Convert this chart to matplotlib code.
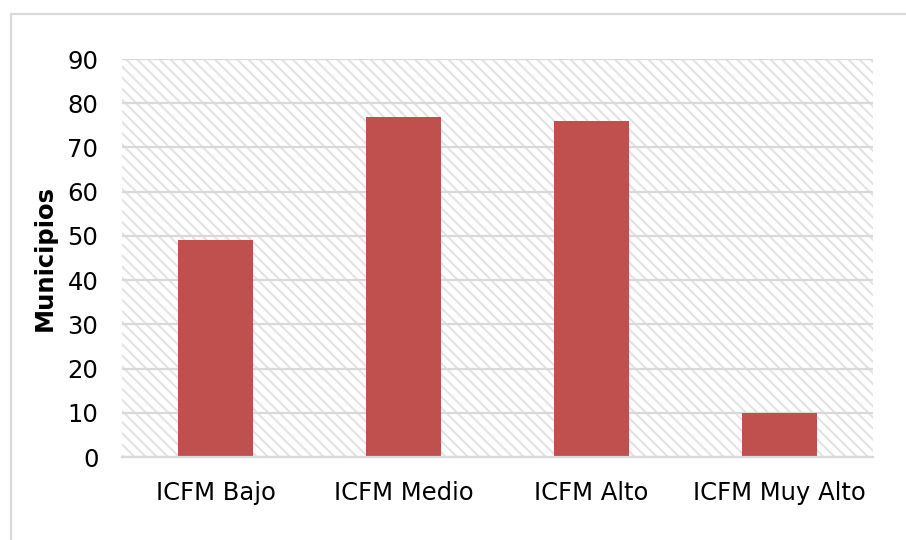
import matplotlib.pyplot as plt
from matplotlib.patches import Rectangle

categories = ['ICFM Bajo', 'ICFM Medio', 'ICFM Alto', 'ICFM Muy Alto']
municipios = [49, 77, 76, 10]
yticks = [0, 10, 20, 30, 40, 50, 60, 70, 80, 90]

plt.rcParams['font.family'] = ['DejaVu Sans']
plt.rcParams['hatch.linewidth'] = 1.5

fig = plt.figure(figsize=(9.06, 5.4), dpi=100)
ax = fig.add_axes([0.1347, 0.1537, 0.8289, 0.737])

# outer chart frame (Excel style)
fig.patches.append(Rectangle((0.0121, -0.2), 1.2, 0.974 + 0.2, transform=fig.transFigure,
                             fill=False, edgecolor='#D9D9D9', linewidth=1.6, zorder=0))

# hatched plot area
ax.add_patch(Rectangle((0, 0), 1, 1, transform=ax.transAxes, facecolor='white',
                       edgecolor='#E3E3E3', linewidth=0, hatch='\\\\\\', zorder=0))

x = range(len(categories))
ax.bar(x, municipios, width=0.4, color='#C0504D', zorder=3)

ax.set_xlim(-0.5, len(categories) - 0.5)
ax.set_ylim(0, 90)
ax.set_yticks(yticks)
ax.set_xticks(list(x))
ax.set_xticklabels(categories)
ax.grid(axis='y', color='#D9D9D9', linewidth=1.6, zorder=1)
ax.set_axisbelow(True)

for side in ['left', 'right', 'top']:
    ax.spines[side].set_visible(False)
ax.spines['bottom'].set_color('#D9D9D9')
ax.spines['bottom'].set_linewidth(1.6)
ax.spines['bottom'].set_zorder(4)

ax.tick_params(axis='both', length=0, labelsize=17.5)
ax.tick_params(axis='y', pad=17)
ax.tick_params(axis='x', pad=17)
ax.set_ylabel('Municipios', fontsize=17.5, fontweight='bold', labelpad=8)

fig.savefig('out.png', dpi=100)
